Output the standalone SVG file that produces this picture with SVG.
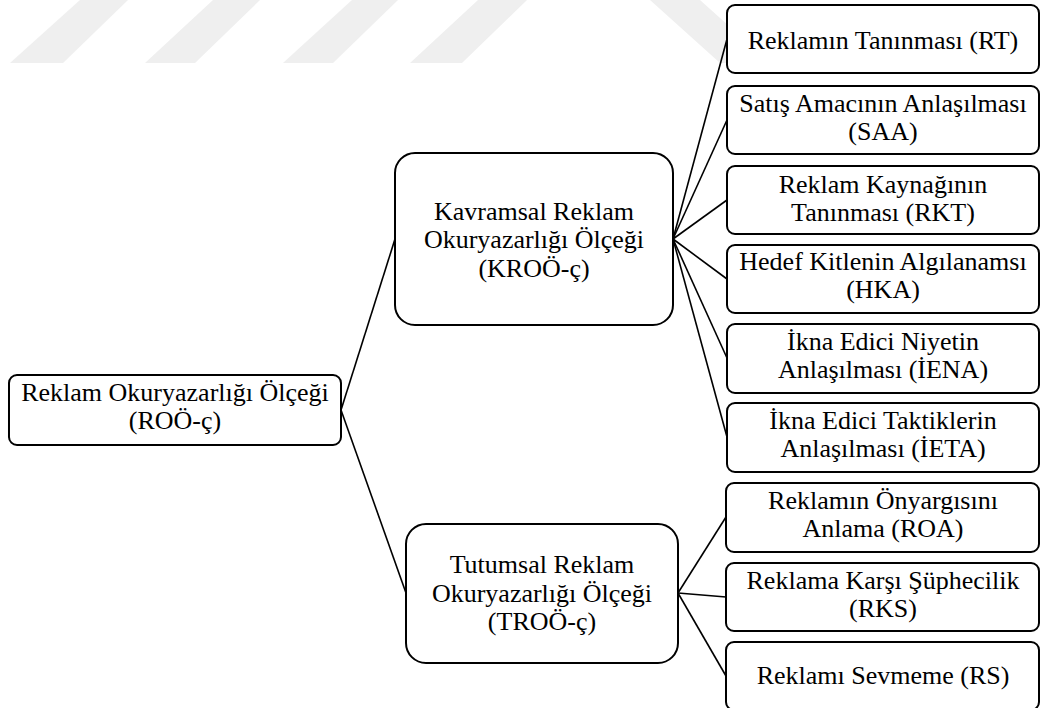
<svg xmlns="http://www.w3.org/2000/svg" width="1041" height="708" viewBox="0 0 1041 708">
<style>
.wm{fill:#efefef}
.box{fill:#fff;stroke:#000;stroke-width:2}
.t{font-family:"Liberation Serif","Times New Roman",serif;font-size:26px;fill:#000;text-anchor:middle}
.c{stroke:#000;stroke-width:1.6;fill:none}
</style>
<rect width="1041" height="708" fill="#fff"/>
<g id="watermark">
<polygon class="wm" points="10,63 63,63 128,0 80,0"/>
<polygon class="wm" points="145,63 195,63 260,0 213,0"/>
<polygon class="wm" points="283,63 333,63 398,0 352,0"/>
<polygon class="wm" points="410,63 462,63 527,0 478,0"/>
<polygon class="wm" points="650,0 700,0 770,63 720,63"/>
</g>
<g id="connectors">
<line class="c" x1="341" y1="410" x2="395" y2="239"/>
<line class="c" x1="341" y1="410" x2="406" y2="593"/>
<line class="c" x1="673" y1="239" x2="727" y2="39"/>
<line class="c" x1="673" y1="239" x2="727" y2="120"/>
<line class="c" x1="673" y1="239" x2="727" y2="200"/>
<line class="c" x1="673" y1="239" x2="727" y2="279"/>
<line class="c" x1="673" y1="239" x2="727" y2="358"/>
<line class="c" x1="673" y1="239" x2="727" y2="437"/>
<line class="c" x1="678" y1="593" x2="726" y2="517"/>
<line class="c" x1="678" y1="593" x2="726" y2="597"/>
<line class="c" x1="678" y1="593" x2="726" y2="676"/>
</g>
<g id="root">
<rect class="box" x="9" y="375" width="332" height="70" rx="8"/>
<text class="t" x="175" y="401">Reklam Okuryazarlığı Ölçeği</text>
<text class="t" x="175" y="429">(ROÖ-ç)</text>
</g>
<g id="kroo">
<rect class="box" x="395" y="153" width="278" height="172" rx="20"/>
<text class="t" x="534" y="220">Kavramsal Reklam</text>
<text class="t" x="534" y="248">Okuryazarlığı Ölçeği</text>
<text class="t" x="534" y="277">(KROÖ-ç)</text>
</g>
<g id="troo">
<rect class="box" x="406" y="524" width="272" height="139" rx="20"/>
<text class="t" x="542" y="573">Tutumsal Reklam</text>
<text class="t" x="542" y="602">Okuryazarlığı Ölçeği</text>
<text class="t" x="542" y="630">(TROÖ-ç)</text>
</g>
<g id="rt">
<rect class="box" x="727" y="5" width="312" height="68" rx="8"/>
<text class="t" x="883" y="49">Reklamın Tanınması (RT)</text>
</g>
<g id="saa">
<rect class="box" x="727" y="86" width="312" height="68" rx="8"/>
<text class="t" x="883" y="112">Satış Amacının Anlaşılması</text>
<text class="t" x="883" y="140">(SAA)</text>
</g>
<g id="rkt">
<rect class="box" x="727" y="166" width="312" height="68" rx="8"/>
<text class="t" x="883" y="193">Reklam Kaynağının</text>
<text class="t" x="883" y="221">Tanınması (RKT)</text>
</g>
<g id="hka">
<rect class="box" x="727" y="245" width="312" height="68" rx="8"/>
<text class="t" x="883" y="270">Hedef Kitlenin Algılanamsı</text>
<text class="t" x="883" y="298">(HKA)</text>
</g>
<g id="iena">
<rect class="box" x="727" y="324" width="312" height="69" rx="8"/>
<text class="t" x="883" y="350">İkna Edici Niyetin</text>
<text class="t" x="883" y="378">Anlaşılması (İENA)</text>
</g>
<g id="ieta">
<rect class="box" x="727" y="403" width="312" height="69" rx="8"/>
<text class="t" x="883" y="429">İkna Edici Taktiklerin</text>
<text class="t" x="883" y="457">Anlaşılması (İETA)</text>
</g>
<g id="roa">
<rect class="box" x="726" y="483" width="313" height="69" rx="8"/>
<text class="t" x="883" y="509">Reklamın Önyargısını</text>
<text class="t" x="883" y="537">Anlama (ROA)</text>
</g>
<g id="rks">
<rect class="box" x="726" y="563" width="313" height="68" rx="8"/>
<text class="t" x="883" y="589">Reklama Karşı Şüphecilik</text>
<text class="t" x="883" y="617">(RKS)</text>
</g>
<g id="rs">
<rect class="box" x="726" y="642" width="313" height="68" rx="8"/>
<text class="t" x="883" y="684">Reklamı Sevmeme (RS)</text>
</g>
</svg>
